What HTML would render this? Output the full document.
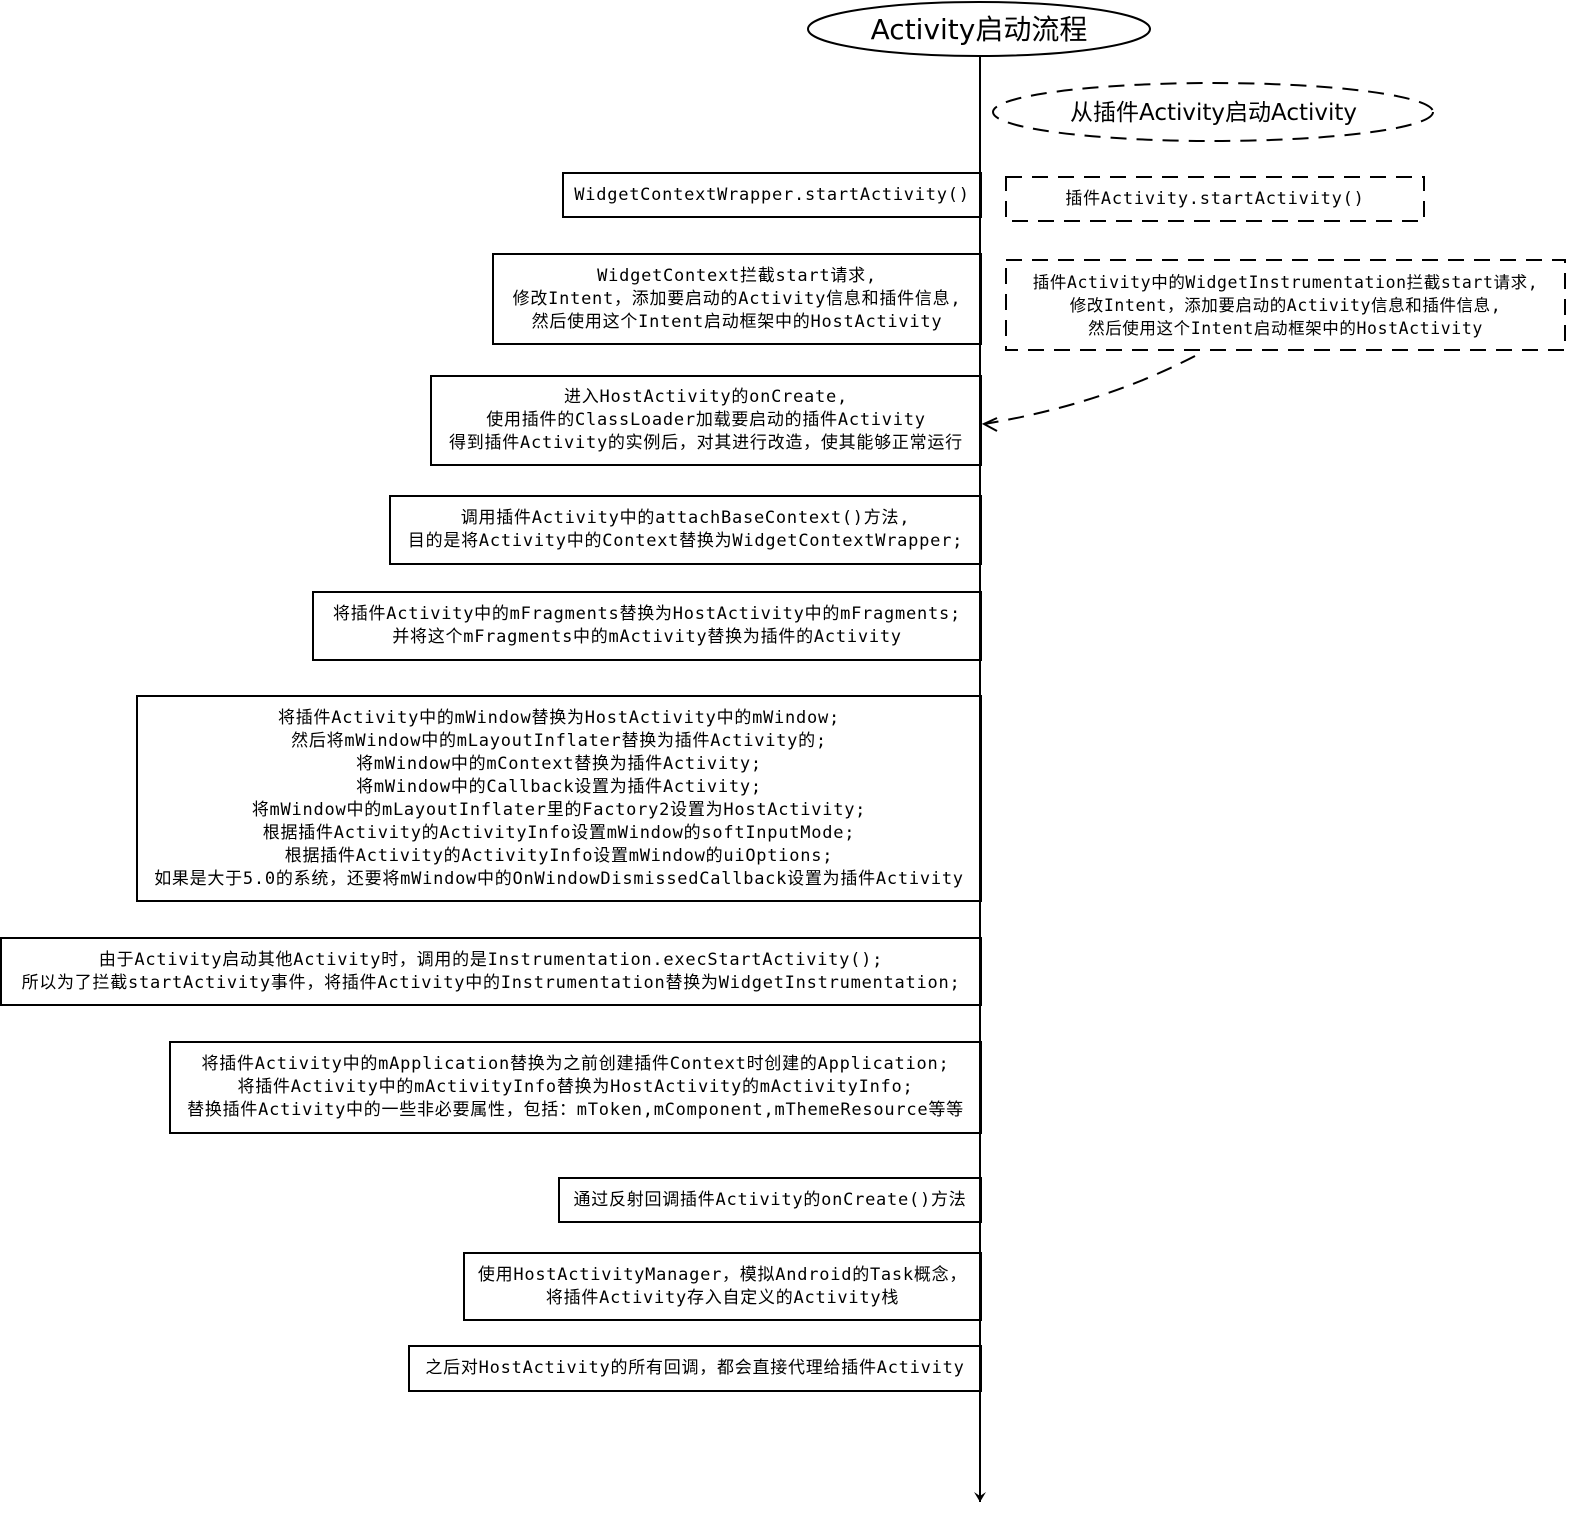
<!DOCTYPE html>
<html><head><meta charset="utf-8"><style>
body{margin:0;background:#fff;}
#c{position:relative;width:1594px;height:1533px;overflow:hidden;background:#fff;}
.b{position:absolute;box-sizing:border-box;border:2px solid #000;display:flex;flex-direction:column;justify-content:center;align-items:center;font-family:"DejaVu Sans Mono","Liberation Mono","Noto Sans CJK SC",monospace;font-size:17px;letter-spacing:0.75px;line-height:23px;color:#000;white-space:nowrap;text-align:center;}
.d{border:none;}
svg{position:absolute;left:0;top:0;}
.t{position:absolute;font-family:"DejaVu Sans","Liberation Sans","Noto Sans CJK SC",sans-serif;white-space:nowrap;text-align:center;}
</style></head><body><div id="c">
<svg width="1594" height="1533">
<defs><marker id="a" markerWidth="12" markerHeight="12" refX="10" refY="6" orient="auto" markerUnits="userSpaceOnUse"><path d="M0,0 L10,6 L0,12 L4,6Z" fill="#000"/></marker>
<marker id="o" markerWidth="14" markerHeight="12" refX="12" refY="6" orient="auto" markerUnits="userSpaceOnUse"><path d="M0,0 L12,6 L0,12" fill="none" stroke="#000" stroke-width="2"/></marker></defs>
<ellipse cx="979" cy="29" rx="171" ry="27" fill="#fff" stroke="#000" stroke-width="2"/>
<line x1="980" y1="56" x2="980" y2="1502" stroke="#000" stroke-width="2" marker-end="url(#a)"/>
<ellipse cx="1213" cy="112" rx="220" ry="29" fill="none" stroke="#000" stroke-width="2" stroke-dasharray="16,10"/>
<rect x="1006" y="177" width="418" height="44" fill="none" stroke="#000" stroke-width="2" stroke-dasharray="16,10"/>
<rect x="1006" y="260" width="559" height="90" fill="none" stroke="#000" stroke-width="2" stroke-dasharray="16,10"/>
<path d="M1195,356 Q1100,405 984,424" fill="none" stroke="#000" stroke-width="2" stroke-dasharray="16,10"/>
<path d="M997,418 L984,424 L997,431" fill="none" stroke="#000" stroke-width="2"/>
</svg>
<div class="t" style="left:808px;top:12px;width:342px;font-size:28px;line-height:36px;">Activity启动流程</div>
<div class="t" style="left:993px;top:98px;width:441px;font-size:23px;line-height:30px;">从插件Activity启动Activity</div>
<div class="b d" style="left:1006px;top:177px;width:418px;height:44px;">插件Activity.startActivity()</div>
<div class="b d" style="left:1006px;top:260px;width:559px;height:90px;font-size:16.5px;letter-spacing:0.6px;"><div>插件Activity中的WidgetInstrumentation拦截start请求,</div><div>修改Intent，添加要启动的Activity信息和插件信息,</div><div>然后使用这个Intent启动框架中的HostActivity</div></div>

<div class="b" style="left:562px;top:172px;width:420px;height:46px;">WidgetContextWrapper.startActivity()</div>
<div class="b" style="left:492px;top:253px;width:490px;height:92px;"><div>WidgetContext拦截start请求,</div><div>修改Intent，添加要启动的Activity信息和插件信息,</div><div>然后使用这个Intent启动框架中的HostActivity</div></div>
<div class="b" style="left:430px;top:375px;width:552px;height:91px;"><div>进入HostActivity的onCreate,</div><div>使用插件的ClassLoader加载要启动的插件Activity</div><div>得到插件Activity的实例后，对其进行改造，使其能够正常运行</div></div>
<div class="b" style="left:389px;top:495px;width:593px;height:70px;"><div>调用插件Activity中的attachBaseContext()方法,</div><div>目的是将Activity中的Context替换为WidgetContextWrapper;</div></div>
<div class="b" style="left:312px;top:591px;width:670px;height:70px;"><div>将插件Activity中的mFragments替换为HostActivity中的mFragments;</div><div>并将这个mFragments中的mActivity替换为插件的Activity</div></div>
<div class="b" style="left:136px;top:695px;width:846px;height:207px;"><div>将插件Activity中的mWindow替换为HostActivity中的mWindow;</div><div>然后将mWindow中的mLayoutInflater替换为插件Activity的;</div><div>将mWindow中的mContext替换为插件Activity;</div><div>将mWindow中的Callback设置为插件Activity;</div><div>将mWindow中的mLayoutInflater里的Factory2设置为HostActivity;</div><div>根据插件Activity的ActivityInfo设置mWindow的softInputMode;</div><div>根据插件Activity的ActivityInfo设置mWindow的uiOptions;</div><div>如果是大于5.0的系统，还要将mWindow中的OnWindowDismissedCallback设置为插件Activity</div></div>
<div class="b" style="left:0px;top:937px;width:982px;height:69px;"><div>由于Activity启动其他Activity时，调用的是Instrumentation.execStartActivity();</div><div>所以为了拦截startActivity事件，将插件Activity中的Instrumentation替换为WidgetInstrumentation;</div></div>
<div class="b" style="left:169px;top:1041px;width:813px;height:93px;"><div>将插件Activity中的mApplication替换为之前创建插件Context时创建的Application;</div><div>将插件Activity中的mActivityInfo替换为HostActivity的mActivityInfo;</div><div>替换插件Activity中的一些非必要属性，包括：mToken,mComponent,mThemeResource等等</div></div>
<div class="b" style="left:558px;top:1177px;width:424px;height:46px;">通过反射回调插件Activity的onCreate()方法</div>
<div class="b" style="left:463px;top:1252px;width:519px;height:69px;"><div>使用HostActivityManager，模拟Android的Task概念，</div><div>将插件Activity存入自定义的Activity栈</div></div>
<div class="b" style="left:408px;top:1345px;width:574px;height:47px;">之后对HostActivity的所有回调，都会直接代理给插件Activity</div>
</div></body></html>
